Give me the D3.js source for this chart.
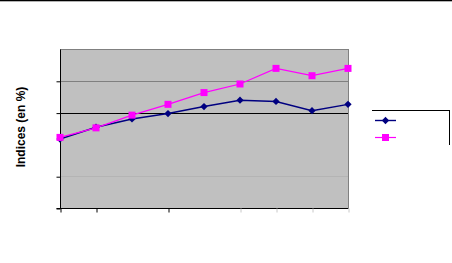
<!DOCTYPE html>
<html>
<head>
<meta charset="utf-8">
<script src="https://cdn.jsdelivr.net/npm/d3@7"></script>
<style>
html,body{margin:0;padding:0;background:#fff;}
svg{display:block;}
</style>
</head>
<body>
<svg id="chart" width="452" height="263"></svg>
<script>
// Data (axis labels are not visible in the reference)
const categories = [0, 1, 2, 3, 4, 5, 6, 7, 8];
const seriesA = [101.7, 105.4, 108.0, 109.7, 111.9, 113.9, 113.5, 110.6, 112.6]; // navy diamonds
const seriesB = [102.2, 105.2, 109.2, 112.6, 116.3, 119.0, 123.9, 121.6, 123.9]; // magenta squares
const yTicks = [80, 90, 100, 110, 120, 130];
const yTitle = "Indices (en %)";

(function () {
const svg = d3.select("#chart");
const W = 452, H = 263;
const pL = 60, pR = 348, pT = 49, pB = 208;

const x = d3.scaleLinear().domain([0, 8]).range([pL, pR]);
const y = d3.scaleLinear().domain([80, 130]).range([pB, pT]);

// top frame line
svg.append("rect").attr("x", 0).attr("y", 0).attr("width", W).attr("height", 1.3).attr("fill", "#000");

// plot area
svg.append("rect").attr("x", pL).attr("y", pT).attr("width", pR - pL).attr("height", pB - pT)
  .attr("fill", "#C0C0C0");

// gridlines
const gridStyle = {90: "#B4B4B4", 100: null, 110: "#000000", 120: "#808080"};
yTicks.forEach(t => {
  const c = gridStyle[t];
  if (!c) return;
  svg.append("line").attr("x1", pL).attr("x2", pR).attr("y1", Math.round(y(t)) + 0.5).attr("y2", Math.round(y(t)) + 0.5)
    .attr("stroke", c).attr("stroke-width", 1);
});

// plot border top and right
svg.append("line").attr("x1", pL).attr("x2", pR + 0.5).attr("y1", pT + 0.5).attr("y2", pT + 0.5).attr("stroke", "#808080");
svg.append("line").attr("x1", pR + 0.5).attr("x2", pR + 0.5).attr("y1", pT).attr("y2", pB).attr("stroke", "#808080");

// y axis
const yAxis = d3.axisLeft(y).tickValues(yTicks.filter(t => t !== 100 && t !== 130)).tickSize(4).tickFormat("");
const gy = svg.append("g").attr("transform", `translate(${pL + 0.5},0.5)`).call(yAxis);
gy.select(".domain").attr("stroke", "#000").attr("d", `M0,${pT}V${pB}`);
gy.selectAll(".tick line").attr("stroke", "#000");

// x axis
const xAxis = d3.axisBottom(x).tickValues(categories).tickSize(4).tickFormat("");
const gx = svg.append("g").attr("transform", `translate(0.5,${pB + 0.5})`).call(xAxis);
gx.select(".domain").attr("stroke", "#000").attr("d", `M${pL - 4},0H${pR}`);
gx.selectAll(".tick line").attr("stroke", d => (d === 2 || d === 4) ? "none" : (d >= 5 ? "#C8C8C8" : "#000"));

// lines
const line = d3.line().x((d, i) => x(categories[i])).y(d => y(d));
svg.append("path").datum(seriesA).attr("d", line).attr("fill", "none").attr("stroke", "#000080").attr("stroke-width", 1.4);
svg.append("path").datum(seriesB).attr("d", line).attr("fill", "none").attr("stroke", "#FF00FF").attr("stroke-width", 1.2);

const diamond = d3.symbol().type(d3.symbolDiamond2).size(34);
svg.append("g").selectAll("path").data(seriesA).join("path")
  .attr("d", diamond).attr("transform", (d, i) => `translate(${x(categories[i])},${y(d)})`).attr("fill", "#000080");
svg.append("g").selectAll("rect").data(seriesB).join("rect")
  .attr("x", (d, i) => x(categories[i]) - 3.5).attr("y", d => y(d) - 3.5).attr("width", 7).attr("height", 7).attr("fill", "#FF00FF");

// y title
svg.append("text").attr("transform", `translate(25,127) rotate(-90)`).attr("text-anchor", "middle")
  .attr("font-family", "Liberation Sans, Arial, sans-serif").attr("font-weight", "bold").attr("font-size", 12)
  .attr("fill", "#000").text(yTitle);

// legend
const lg = svg.append("g");
lg.append("line").attr("x1", 372).attr("x2", 449.5).attr("y1", 110.5).attr("y2", 110.5).attr("stroke", "#000");
lg.append("line").attr("x1", 449.5).attr("x2", 449.5).attr("y1", 110).attr("y2", 145).attr("stroke", "#000");
lg.append("line").attr("x1", 375).attr("x2", 396).attr("y1", 120.5).attr("y2", 120.5).attr("stroke", "#000080").attr("stroke-width", 1.4);
lg.append("path").attr("d", diamond).attr("transform", "translate(385.5,120.5)").attr("fill", "#000080");
lg.append("line").attr("x1", 375).attr("x2", 396).attr("y1", 137.5).attr("y2", 137.5).attr("stroke", "#FF00FF").attr("stroke-width", 1.2);
lg.append("rect").attr("x", 382).attr("y", 134).attr("width", 7).attr("height", 7).attr("fill", "#FF00FF");
})();
</script>
</body>
</html>
